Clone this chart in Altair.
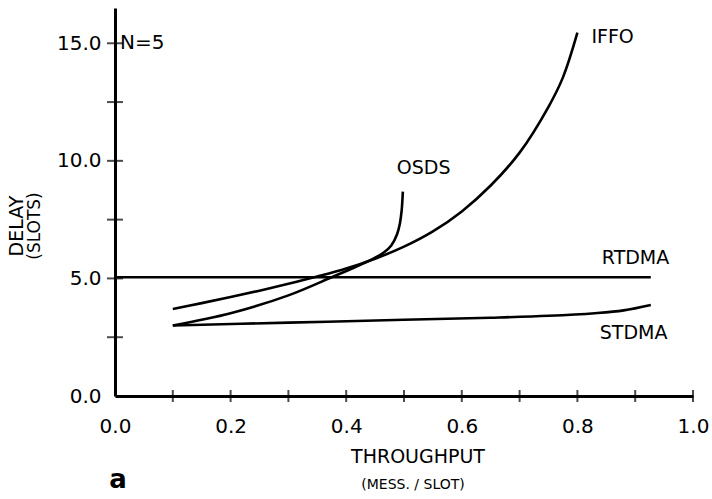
import altair as alt
import pandas as pd

# ---- data ----
iffo_x = [0.10, 0.15, 0.20, 0.25, 0.30, 0.35, 0.40, 0.45, 0.50, 0.55, 0.60, 0.65, 0.70, 0.75, 0.775, 0.80]
iffo_y = [3.70, 3.95, 4.21, 4.48, 4.77, 5.08, 5.42, 5.84, 6.35, 7.00, 7.85, 8.95, 10.35, 12.30, 13.55, 15.45]

osds_x = [0.10, 0.20, 0.30, 0.375, 0.41, 0.447, 0.465, 0.478, 0.488, 0.493, 0.496, 0.498]
osds_y = [3.00, 3.52, 4.28, 5.05, 5.42, 5.84, 6.10, 6.40, 6.88, 7.35, 7.90, 8.69]

rtdma_x = [0.0, 0.927]
rtdma_y = [5.05, 5.05]

stdma_x = [0.10, 0.30, 0.50, 0.65, 0.75, 0.83, 0.88, 0.927]
stdma_y = [3.00, 3.12, 3.24, 3.33, 3.41, 3.52, 3.64, 3.87]

series_names = ["IFFO", "OSDS", "RTDMA", "STDMA"]
x_tick_values = [0.1, 0.2, 0.3, 0.4, 0.5, 0.6, 0.7, 0.8, 0.9, 1.0]
y_tick_values = [2.5, 5.0, 7.5, 10.0, 12.5, 15.0]
x_label_values = [0.0, 0.2, 0.4, 0.6, 0.8, 1.0]
y_label_values = [0.0, 5.0, 10.0, 15.0]

FONT = "DejaVu Sans"

rows = []
for name, xs_, ys_ in zip(series_names,
                          [iffo_x, osds_x, rtdma_x, stdma_x],
                          [iffo_y, osds_y, rtdma_y, stdma_y]):
    for i, (a, b) in enumerate(zip(xs_, ys_)):
        rows.append({"series": name, "x": a, "y": b, "order": i})
df = pd.DataFrame(rows)

# end points for labels
ends = pd.DataFrame({
    "series": series_names,
    "x": [iffo_x[-1], osds_x[-1], rtdma_x[-1], stdma_x[-1]],
    "y": [iffo_y[-1], osds_y[-1], rtdma_y[-1], stdma_y[-1]],
})

xs = alt.Scale(domain=[0, 1], nice=False, zero=False)
ys = alt.Scale(domain=[0, 16.5], nice=False, zero=False)

xaxis = alt.Axis(values=x_label_values, format=".1f", grid=False, ticks=False,
                 domainColor="black", domainWidth=3, labelFont=FONT, labelFontSize=20,
                 labelColor="black", labelPadding=20, title=None, labelFlush=False)
yaxis = alt.Axis(values=y_label_values, format=".1f", grid=False, ticks=False,
                 domainColor="black", domainWidth=3, labelFont=FONT, labelFontSize=20,
                 labelColor="black", labelPadding=14, title=None)

lines = alt.Chart(df).mark_line(color="black", strokeWidth=2.6, interpolate="catmull-rom").encode(
    x=alt.X("x:Q", scale=xs, axis=xaxis),
    y=alt.Y("y:Q", scale=ys, axis=yaxis),
    detail="series:N",
    order="order:Q",
)

xt = alt.Chart(pd.DataFrame({"x": x_tick_values, "y": [0.0] * len(x_tick_values)})).mark_tick(
    orient="vertical", color="black", thickness=2, size=12
).encode(x=alt.X("x:Q", scale=xs), y=alt.Y("y:Q", scale=ys))

yt = alt.Chart(pd.DataFrame({"x": [0.0] * len(y_tick_values), "y": y_tick_values})).mark_tick(
    orient="horizontal", color="black", thickness=2, size=16
).encode(x=alt.X("x:Q", scale=xs), y=alt.Y("y:Q", scale=ys))

def end_label(name, dx, dy):
    return alt.Chart(ends[ends.series == name]).mark_text(
        align="left", baseline="middle", dx=dx, dy=dy, font=FONT, fontSize=19, color="black"
    ).encode(x=alt.X("x:Q", scale=xs), y=alt.Y("y:Q", scale=ys), text="series:N")

labels = [
    end_label("IFFO", 14, 4),
    end_label("OSDS", -6, -24),
    end_label("RTDMA", -49, -19),
    end_label("STDMA", -51, 28),
]

n5 = alt.Chart(pd.DataFrame({"x": [0.0], "y": [15.0], "t": ["N=5"]})).mark_text(
    align="left", baseline="middle", dx=5, font=FONT, fontSize=20, color="black"
).encode(x=alt.X("x:Q", scale=xs), y=alt.Y("y:Q", scale=ys), text="t:N")

one = pd.DataFrame({"k": [0]})

def free_text(txt, x, y, size, angle=0, weight="normal"):
    return alt.Chart(one).mark_text(
        align="center", baseline="middle", font=FONT, fontSize=size, color="black",
        angle=angle, fontWeight=weight
    ).encode(x=alt.value(x), y=alt.value(y), text=alt.value(txt))

titles = [
    free_text("THROUGHPUT", 303, 449, 19),
    free_text("(MESS. / SLOT)", 298, 477, 14),
    free_text("DELAY", -98, 218, 19, angle=270),
    free_text("(SLOTS)", -80, 218, 17, angle=270),
    free_text("a", 3, 472, 26, weight="bold"),
]

chart = alt.layer(lines, xt, yt, *labels, n5, *titles).properties(
    width=578, height=388,
    autosize=alt.AutoSizeParams(type="none"),
    padding={"left": 115, "top": 8, "right": 19, "bottom": 103},
    background="white",
).configure_view(stroke=None)

chart.save("out.html", embed_options={"renderer": "svg", "actions": False})
